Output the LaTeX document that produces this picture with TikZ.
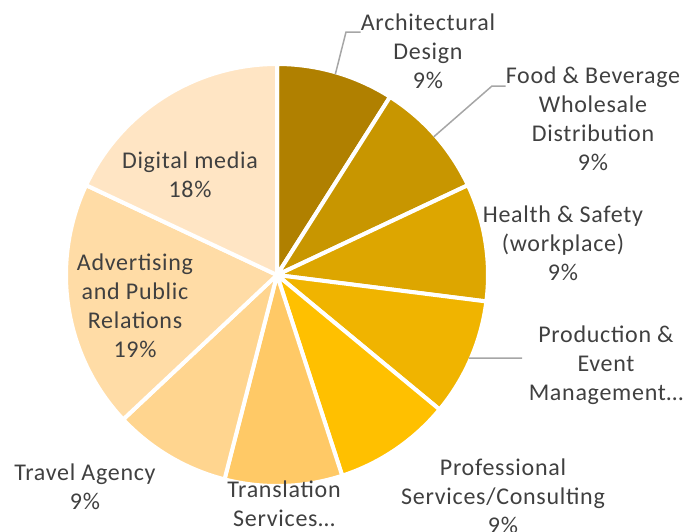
\documentclass[tikz,border=0pt]{standalone}
\usepackage{fontspec}
\setmainfont{Carlito}[LetterSpace=3]
\definecolor{sliceA}{RGB}{176,128,0}
\definecolor{sliceB}{RGB}{200,150,0}
\definecolor{sliceC}{RGB}{221,166,0}
\definecolor{sliceD}{RGB}{240,180,0}
\definecolor{sliceE}{RGB}{255,192,0}
\definecolor{sliceF}{RGB}{255,201,102}
\definecolor{sliceG}{RGB}{255,213,143}
\definecolor{sliceH}{RGB}{255,220,166}
\definecolor{sliceI}{RGB}{255,229,196}
\definecolor{txtgray}{RGB}{64,64,64}
\definecolor{leadgray}{RGB}{166,166,166}
\begin{document}
\begin{tikzpicture}[x=1pt,y=-1pt,
    slice/.style={draw=white,line width=4pt,line join=round},
    lbl/.style={text=txtgray,align=center,inner sep=0pt,font=\fontsize{24}{29}\selectfont},
    leader/.style={draw=leadgray,line width=1.5pt}]
  \useasboundingbox (0,0) rectangle (690,531);
  \clip (0,0) rectangle (690,531);
  \coordinate (c) at (277,275);
  % slices, clockwise from the top
  \foreach \a/\b/\col in {-90/-57.6/sliceA,-57.6/-25.2/sliceB,-25.2/7.2/sliceC,
      7.2/39.6/sliceD,39.6/72/sliceE,72/104.4/sliceF,104.4/136.8/sliceG,
      136.8/205.2/sliceH,205.2/270/sliceI}
    \filldraw[slice,fill=\col] (c) -- ++(\a:211) arc[start angle=\a,end angle=\b,radius=211] -- cycle;
  % labels
  \node[lbl] (arch) at (428,51) {Architectural\\Design\\9\%};
  \node[lbl] (food) at (593,119) {Food \& Beverage\\Wholesale\\Distribution\\9\%};
  \node[lbl] (health) at (563,243) {Health \& Safety\\(workplace)\\9\%};
  \node[lbl] (prod) at (606,365) {Production \&\\Event\\Management…};
  \node[lbl] (prof) at (503,496) {Professional\\Services/Consulting\\9\%};
  \node[lbl] (trans) at (284,504) {Translation\\Services…};
  \node[lbl] (travel) at (85,487) {Travel Agency\\9\%};
  \node[lbl] (adv) at (135,306) {Advertising\\and Public\\Relations\\19\%};
  \node[lbl] (digital) at (190,175) {Digital media\\18\%};
  % leader lines
  \path (c) ++(-73.8:209) coordinate (archpt);
  \path (c) ++(-41.4:209) coordinate (foodpt);
  \path (c) ++(23.4:209) coordinate (prodpt);
  \coordinate (archbend) at (346,32);
  \coordinate (foodbend) at (492,86);
  \coordinate (prodbend) at (507,358);
  \coordinate (prodend) at (522,358);
  \draw[leader] (archpt) -- (archbend) -- (archbend -| arch.west);
  \draw[leader] (foodpt) -- (foodbend) -- (foodbend -| food.west);
  \draw[leader] (prodpt) -- (prodbend) -- (prodend);
\end{tikzpicture}
\end{document}
